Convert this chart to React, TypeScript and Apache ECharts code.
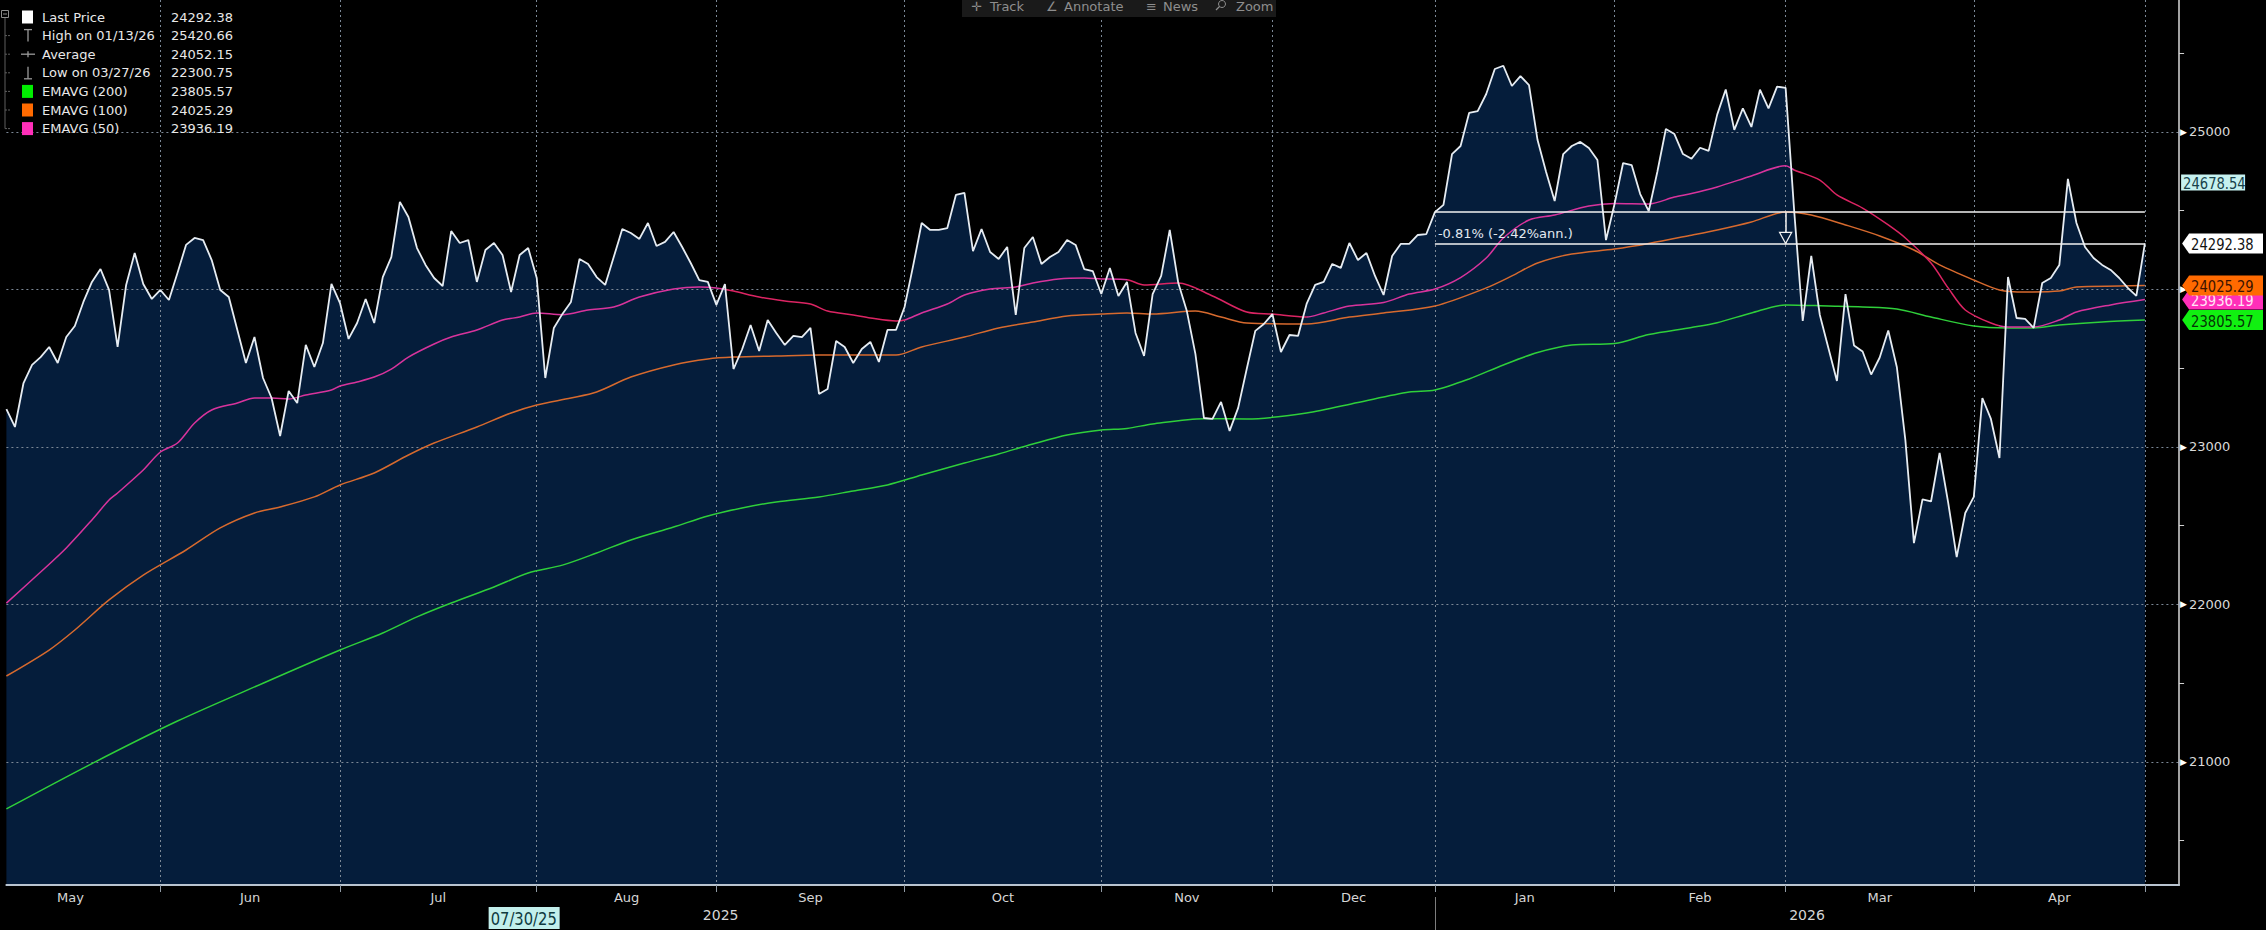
import React, { useEffect, useRef } from "react";
import * as echarts from "echarts";

// ---------------- trading days (x categories) ----------------
const MAY25 = [7, 8, 9, 12, 13, 14, 15, 16, 19, 20, 21, 22, 23, 26, 27, 28, 29, 30];
const JUN25 = [2, 3, 4, 5, 6, 9, 10, 11, 12, 13, 16, 17, 18, 19, 20, 23, 24, 25, 26, 27, 30];
const JUL25 = [1, 2, 3, 4, 7, 8, 9, 10, 11, 14, 15, 16, 17, 18, 21, 22, 23, 24, 25, 28, 29, 30, 31];
const AUG25 = [1, 4, 5, 6, 7, 8, 11, 12, 13, 14, 15, 18, 19, 20, 21, 22, 25, 26, 27, 28, 29];
const SEP25 = [1, 2, 3, 4, 5, 8, 9, 10, 11, 12, 15, 16, 17, 18, 19, 22, 23, 24, 25, 26, 29, 30];
const OCT25 = [1, 2, 3, 6, 7, 8, 9, 10, 13, 14, 15, 16, 17, 20, 21, 22, 23, 24, 27, 28, 29, 30, 31];
const NOV25 = [3, 4, 5, 6, 7, 10, 11, 12, 13, 14, 17, 18, 19, 20, 21, 24, 25, 26, 27, 28];
const DEC25 = [1, 2, 3, 4, 5, 8, 9, 10, 11, 12, 15, 16, 17, 18, 19, 22, 23, 29, 30];
const JAN26 = [2, 5, 6, 7, 8, 9, 12, 13, 14, 15, 16, 19, 20, 21, 22, 23, 26, 27, 28, 29, 30];
const FEB26 = [2, 3, 4, 5, 6, 9, 10, 11, 12, 13, 16, 17, 18, 19, 20, 23, 24, 25, 26, 27];
const MAR26 = [2, 3, 4, 5, 6, 9, 10, 11, 12, 13, 16, 17, 18, 19, 20, 23, 24, 25, 26, 27, 30, 31];
const APR26 = [1, 2, 7, 8, 9, 10, 13, 14, 15, 16, 17, 20, 21, 22, 23, 24, 27, 28, 29, 30];
const MAY26 = [4];
const MONTH_DAYS = [MAY25, JUN25, JUL25, AUG25, SEP25, OCT25, NOV25, DEC25, JAN26, FEB26, MAR26, APR26, MAY26];
const MONTH_MM = ["05", "06", "07", "08", "09", "10", "11", "12", "01", "02", "03", "04", "05"];
const MONTH_YY = ["25", "25", "25", "25", "25", "25", "25", "25", "26", "26", "26", "26", "26"];
const MONTH_NAMES = ["May", "Jun", "Jul", "Aug", "Sep", "Oct", "Nov", "Dec", "Jan", "Feb", "Mar", "Apr"];
const MAY25_FULL_DAYS = 21; // whole month of May 2025 (used to centre the "May" label)
const YEAR_NAMES = ["2025", "2026"];

// ---------------- series values ----------------
const PRICE = [
  23241, 23127, 23406, 23521, 23571, 23635, 23533, 23698, 23768, 23921,
  24048, 24130, 23997, 23635, 24029, 24232, 24035, 23940, 23997, 23933,
  24105, 24283, 24327, 24314, 24187, 23997, 23952, 23743, 23533, 23698,
  23438, 23311, 23070, 23356, 23279, 23648, 23508, 23660, 24035, 23914,
  23686, 23787, 23940, 23787, 24079, 24206, 24556, 24460, 24263, 24156,
  24073, 24022, 24371, 24295, 24314, 24048, 24251, 24295, 24219, 23984,
  24219, 24263, 24073, 23438, 23756, 23845, 23921, 24194, 24162, 24079,
  24029, 24206, 24384, 24359, 24321, 24422, 24276, 24302, 24365, 24270,
  24168, 24060, 24048, 23902, 24035, 23495, 23619, 23775, 23610, 23806,
  23724, 23648, 23705, 23698, 23756, 23337, 23368, 23673, 23635, 23533,
  23622, 23667, 23540, 23743, 23743, 23889, 24150, 24422, 24378, 24378,
  24390, 24600, 24613, 24244, 24384, 24238, 24194, 24270, 23838, 24263,
  24333, 24162, 24206, 24238, 24314, 24283, 24130, 24117, 23971, 24137,
  23959, 24048, 23724, 23578, 23971, 24086, 24378, 24041, 23863, 23591,
  23184, 23178, 23286, 23102, 23248, 23495, 23737, 23781, 23844, 23603,
  23711, 23705, 23908, 24029, 24048, 24162, 24137, 24295, 24187, 24232,
  24086, 23965, 24213, 24289, 24289, 24346, 24352, 24490.8, 24537, 24860,
  24911, 25121, 25133, 25241, 25400, 25420.66, 25292, 25355, 25298, 24949,
  24746, 24562, 24860, 24911, 24937, 24898, 24822, 24314, 24543, 24803,
  24790, 24606, 24498, 24746, 25019, 24987, 24860, 24830, 24900, 24880,
  25110, 25270, 25013, 25150, 25032, 25269, 25150, 25288, 25280, 24500,
  23800, 24213, 23838, 23629, 23419, 23971, 23644, 23606, 23460, 23568,
  23740, 23508, 23044, 22390, 22667, 22654, 22962, 22648, 22300.75, 22581,
  22683, 23311, 23178, 22930, 24079, 23819, 23813, 23756, 24041, 24073,
  24156, 24702, 24422, 24270, 24200, 24156, 24124, 24073, 24010, 23959,
  24292.38,
];

// EMA curves, read as [trading-day index, value]
const EMA50 = [
  [0, 22009], [4, 22206], [7, 22359], [10, 22537], [12, 22663], [13, 22708], [16, 22854], [18, 22968],
  [20, 23025], [22, 23152], [24, 23235], [27, 23279], [29, 23311], [31, 23311], [33, 23305], [35, 23330],
  [38, 23362], [39, 23387], [41, 23413], [43, 23444], [45, 23495], [47, 23571], [50, 23654], [52, 23698],
  [55, 23743], [58, 23806], [60, 23825], [62, 23851], [65, 23840], [68, 23870], [71, 23889], [74, 23952],
  [78, 24003], [81, 24016], [83, 24010], [85, 23990], [88, 23952], [91, 23927], [94, 23908], [96, 23863],
  [99, 23838], [101, 23819], [104, 23800], [105, 23806], [107, 23851], [110, 23908], [112, 23965], [115, 24003],
  [118, 24016], [120, 24041], [123, 24067], [126, 24073], [128, 24067], [131, 24062], [133, 24029], [137, 24041],
  [141, 23959], [145, 23857], [148, 23844], [152, 23825], [154, 23851], [157, 23895], [161, 23917], [164, 23971],
  [167, 24003], [170, 24076], [173, 24200], [175, 24327], [178, 24441], [181, 24473], [185, 24530], [188, 24546],
  [192, 24543], [195, 24587], [197, 24609], [200, 24651], [204, 24721], [208, 24786], [209, 24759], [212, 24695],
  [214, 24600], [217, 24517], [220, 24410], [222, 24327], [225, 24168], [227, 24010], [229, 23870], [232, 23787],
  [234, 23762], [237, 23762], [240, 23806], [242, 23857], [246, 23902], [250, 23936.19],
];
const EMA100 = [
  [0, 21546], [5, 21711], [8, 21838], [12, 22029], [16, 22187], [21, 22346], [25, 22486], [29, 22581],
  [32, 22619], [36, 22683], [39, 22759], [43, 22835], [47, 22949], [50, 23025], [55, 23127], [59, 23216],
  [62, 23267], [66, 23311], [69, 23349], [73, 23444], [78, 23521], [82, 23559], [85, 23571], [90, 23578],
  [95, 23584], [99, 23584], [104, 23584], [107, 23635], [112, 23698], [116, 23756], [120, 23794], [124, 23832],
  [128, 23844], [131, 23851], [134, 23844], [139, 23863], [142, 23825], [145, 23787], [152, 23781], [157, 23825],
  [161, 23851], [167, 23895], [173, 24010], [176, 24086], [179, 24168], [183, 24225], [188, 24257], [192, 24292],
  [197, 24345], [200, 24378], [204, 24429], [208, 24492], [211, 24473], [215, 24410], [219, 24340], [223, 24251],
  [226, 24156], [230, 24060], [233, 23997], [236, 23984], [240, 23990], [242, 24016], [247, 24022], [250, 24025.29],
];
const EMA200 = [
  [0, 20702], [10, 20990], [20, 21260], [30, 21500], [39, 21711], [44, 21819], [48, 21921], [52, 22009],
  [57, 22111], [61, 22200], [65, 22250], [69, 22327], [73, 22410], [78, 22492], [82, 22562], [86, 22613],
  [90, 22651], [95, 22683], [99, 22721], [103, 22759], [107, 22822], [112, 22898], [116, 22956], [120, 23019],
  [124, 23076], [128, 23108], [131, 23118], [134, 23146], [140, 23180], [145, 23178], [152, 23216], [158, 23283],
  [164, 23349], [167, 23362], [171, 23432], [175, 23521], [179, 23600], [183, 23648], [188, 23657], [192, 23714],
  [197, 23759], [200, 23789], [204, 23851], [208, 23902], [213, 23895], [217, 23889], [221, 23876], [225, 23825],
  [230, 23768], [234, 23756], [237, 23756], [240, 23775], [245, 23794], [250, 23805.57],
];
// stretches where the 50-day EMA runs over the black (un-filled) part of the chart
const EMA50_OVER_BLACK = [[84, 105], [131, 152], [209, 233]];

// legend
const LEGEND_LABELS = ["Last Price", "High on 01/13/26", "Average", "Low on 03/27/26", "EMAVG (200)", "EMAVG (100)", "EMAVG (50)"];
const LEGEND_VALUES = ["24292.38", "25420.66", "24052.15", "22300.75", "23805.57", "24025.29", "23936.19"];

// y axis
const Y_MIN = 20219;
const Y_MAX = 25838;
const Y_MAJOR = [21000, 22000, 23000, 24000, 25000];
const Y_MINOR = [20500, 21500, 22500, 23500, 24500, 25500];

// annotation (YTD change)
const ANN_START = 167; // 01/02/26
const ANN_FROM = 24490.8;
const ANN_TO = 24292.38;
const ANN_ARROW_AT = 208;
const ANN_TEXT = "-0.81% (-2.42%ann.)";

// crosshair read-outs
const CROSS_INDEX = 60; // 07/30/25
const CROSS_VALUE = 24678.54;

// ---------------- styles ----------------
const NAVY = "#051d3b";
const GRID_COLOR = "#7c8896";
const C_PRICE = "#e6ecf2";
const C_EMA200 = "#2fcf3a";
const C_EMA100 = "#d76a2e";
const C_EMA50 = "#d8339c";
const C_EMA50_DARK = "#dc2463";
const F_UI = "'DejaVu Sans', Verdana, sans-serif";
const NARROW = 0.82; // horizontal squeeze for the condensed tag font

// ---------------- derived categories ----------------
const CATEGORIES: string[] = [];
const MONTH_START: number[] = [];
MONTH_DAYS.forEach((days, m) => {
  MONTH_START.push(CATEGORIES.length);
  days.forEach((d) => CATEGORIES.push(`${MONTH_MM[m]}/${String(d).padStart(2, "0")}/${MONTH_YY[m]}`));
});
const LAST = CATEGORIES.length - 1;
for (let k = 1; k <= 4; k++) CATEGORIES.push(`pad${k}`);
const N_CAT = CATEGORIES.length;
const BOUNDARIES = new Set(MONTH_START.slice(1));

const GRID_LEFT = 6.4;
const GRID_RIGHT = 86.9;
const STEP_PX = (2266 - GRID_LEFT - GRID_RIGHT) / (N_CAT - 1);

const MONTH_LABEL_AT = new Map<number, string>();
MONTH_NAMES.forEach((name, m) => {
  const start = m === 0 ? MONTH_START[1] - MAY25_FULL_DAYS : MONTH_START[m];
  const c = (start + MONTH_START[m + 1]) / 2;
  const idx = Math.floor(c);
  MONTH_LABEL_AT.set(idx, c - idx >= 0.5 ? `{h|${name}}` : `{n|${name}}`);
});
const YEAR_LABEL_AT = new Map<number, string>();
[(0 + MONTH_START[8]) / 2, (MONTH_START[8] + N_CAT - 1) / 2].forEach((c, k) => {
  const idx = Math.floor(c);
  YEAR_LABEL_AT.set(idx, c - idx >= 0.5 ? `{h|${YEAR_NAMES[k]}}` : `{n|${YEAR_NAMES[k]}}`);
});

export default function App() {
  const ref = useRef<HTMLDivElement>(null);

  useEffect(() => {
    document.body.style.margin = "0";
    document.body.style.background = "#000";
    const chart = echarts.init(ref.current!, null, { renderer: "svg" });

    const monthRich = {
      n: { fontSize: 13, fontFamily: F_UI, color: "#d6d6d6" },
      h: { fontSize: 13, fontFamily: F_UI, color: "#d6d6d6", padding: [0, 0, 0, STEP_PX] },
    };
    const yearRich = {
      n: { fontSize: 14, fontFamily: F_UI, color: "#d6d6d6" },
      h: { fontSize: 14, fontFamily: F_UI, color: "#d6d6d6", padding: [0, 0, 0, STEP_PX] },
    };

    const option: any = {
      backgroundColor: "#000",
      animation: false,
      grid: { left: GRID_LEFT, right: GRID_RIGHT, top: 0, bottom: 45, outerBoundsMode: "none" },
      visualMap: {
        type: "piecewise",
        show: false,
        seriesIndex: 3,
        dimension: 0,
        pieces: EMA50_OVER_BLACK.map(([a, b]) => ({ gte: a, lte: b, color: C_EMA50_DARK })),
        outOfRange: { color: C_EMA50 },
      },
      xAxis: [
        {
          type: "category",
          data: CATEGORIES,
          boundaryGap: false,
          position: "bottom",
          z: 1.5,
          axisLine: { show: true, lineStyle: { color: "#b9c4d0", width: 2 } },
          axisTick: { show: true, interval: (i: number) => BOUNDARIES.has(i), length: 7, lineStyle: { color: "#8f99a4" } },
          splitLine: { show: true, interval: (i: number) => BOUNDARIES.has(i), lineStyle: { color: GRID_COLOR, type: [2, 3], width: 1 } },
          axisLabel: {
            interval: (i: number) => MONTH_LABEL_AT.has(i),
            formatter: (_v: string, i: number) => MONTH_LABEL_AT.get(i) || "",
            margin: 6,
            rich: monthRich,
          },
        },
        {
          type: "category",
          data: CATEGORIES,
          boundaryGap: false,
          position: "bottom",
          offset: 12,
          axisLine: { show: false },
          axisTick: { show: true, interval: (i: number) => i === MONTH_START[8], length: 33, lineStyle: { color: "#7d7d7d" } },
          splitLine: { show: false },
          axisLabel: {
            interval: (i: number) => YEAR_LABEL_AT.has(i),
            formatter: (_v: string, i: number) => YEAR_LABEL_AT.get(i) || "",
            margin: 11,
            rich: yearRich,
          },
        },
      ],
      yAxis: [
        {
          type: "value",
          position: "right",
          min: Y_MIN,
          max: Y_MAX,
          z: 1.5,
          axisLine: { show: true, lineStyle: { color: "#d9d9d9", width: 1.5 } },
          axisTick: { show: false, customValues: Y_MAJOR },
          splitLine: { show: true, lineStyle: { color: GRID_COLOR, type: [2, 3], width: 1 } },
          axisLabel: {
            customValues: Y_MAJOR,
            margin: 1,
            formatter: (v: number) => `{t|\u25B6}{v|${v}}`,
            rich: {
              t: { fontSize: 9, fontFamily: F_UI, color: "#ffffff", padding: [0, 2, 0, 0] },
              v: { fontSize: 13, fontFamily: F_UI, color: "#d9d9d9" },
            },
          },
        },
        {
          type: "value",
          position: "right",
          min: Y_MIN,
          max: Y_MAX,
          axisLine: { show: false },
          axisTick: { show: true, customValues: Y_MINOR, length: 5, lineStyle: { color: "#cfcfcf" } },
          axisLabel: { show: false },
          splitLine: { show: false },
        },
      ],
      series: [
        {
          name: "area",
          type: "line",
          data: PRICE,
          symbol: "none",
          silent: true,
          z: 1,
          lineStyle: { width: 0 },
          areaStyle: { color: NAVY, opacity: 1, origin: "start" },
        },
        { name: "EMAVG (200)", type: "line", data: EMA200, symbol: "none", smooth: 0.3, z: 2, lineStyle: { color: C_EMA200, width: 1.5 } },
        { name: "EMAVG (100)", type: "line", data: EMA100, symbol: "none", smooth: 0.3, z: 2, lineStyle: { color: C_EMA100, width: 1.5 } },
        { name: "EMAVG (50)", type: "line", data: EMA50, symbol: "none", smooth: 0.3, z: 2, lineStyle: { width: 1.5 } },
        {
          name: "Last Price",
          type: "line",
          data: PRICE,
          symbol: "none",
          z: 3,
          lineStyle: { color: C_PRICE, width: 1.8 },
          markLine: {
            silent: true,
            symbol: ["none", "none"],
            lineStyle: { color: "#f2f2f2", width: 1.5, type: "solid" },
            label: { show: false },
            data: [
              [{ coord: [ANN_START, ANN_FROM] }, { coord: [LAST, ANN_FROM] }],
              [
                {
                  coord: [ANN_START, ANN_TO],
                  label: { show: true, position: "insideStartTop", formatter: ANN_TEXT, color: "#e3e9f0", fontSize: 13, fontFamily: F_UI, distance: 3 },
                },
                { coord: [LAST, ANN_TO] },
              ],
              [{ coord: [ANN_ARROW_AT, ANN_FROM] }, { coord: [ANN_ARROW_AT, ANN_TO] }],
            ],
          },
        },
      ],
    };

    chart.setOption(option);

    // ------------- graphics: legend, toolbar, value tags -------------
    const els: any[] = [];
    const LY0 = 17;
    const LDY = 18.6;
    const grey = "#8c8c8c";
    // tree
    els.push({ type: "rect", shape: { x: 1.5, y: 10.5, width: 7, height: 7 }, style: { fill: "none", stroke: grey, lineWidth: 1 }, z: 100 });
    els.push({ type: "line", shape: { x1: 3, y1: 14, x2: 7, y2: 14 }, style: { stroke: grey, lineWidth: 1 }, z: 100 });
    els.push({ type: "line", shape: { x1: 5, y1: 18, x2: 5, y2: LY0 + 6 * LDY }, style: { stroke: "#5e5e5e", lineWidth: 1 }, z: 100 });
    LEGEND_LABELS.forEach((lab, k) => {
      const y = LY0 + k * LDY;
      if (k > 0) els.push({ type: "line", shape: { x1: 5, y1: y, x2: 11, y2: y }, style: { stroke: "#5e5e5e", lineWidth: 1, lineDash: [2, 1] }, z: 100 });
      els.push({ type: "text", x: 42, y, style: { text: lab, fill: "#e8e8e8", font: `13px ${F_UI}`, align: "left", verticalAlign: "middle" }, z: 100 });
      els.push({ type: "text", x: 233, y, style: { text: LEGEND_VALUES[k], fill: "#e8e8e8", font: `13px ${F_UI}`, align: "right", verticalAlign: "middle" }, z: 100 });
    });
    const sq = (k: number, color: string) =>
      els.push({ type: "rect", shape: { x: 22, y: LY0 + k * LDY - 6.5, width: 11, height: 13 }, style: { fill: color }, z: 100 });
    sq(0, "#ffffff");
    sq(4, "#00ee00");
    sq(5, "#ff6a00");
    sq(6, "#ff2fb9");
    const ln = (x1: number, y1: number, x2: number, y2: number) =>
      els.push({ type: "line", shape: { x1, y1, x2, y2 }, style: { stroke: "#9a9a9a", lineWidth: 1.3 }, z: 100 });
    {
      const y1 = LY0 + LDY;
      ln(28, y1 - 6, 28, y1 + 6);
      ln(24, y1 - 6, 32, y1 - 6);
      const y2 = LY0 + 2 * LDY;
      ln(21, y2, 35, y2);
      ln(28, y2 - 3, 28, y2 + 3);
      const y3 = LY0 + 3 * LDY;
      ln(28, y3 - 6, 28, y3 + 6);
      ln(24, y3 + 6, 32, y3 + 6);
    }

    // toolbar
    els.push({ type: "rect", shape: { x: 962, y: -2, width: 314, height: 19 }, style: { fill: "#1a1a1a" }, z: 100 });
    const tb = (x: number, t: string) =>
      els.push({ type: "text", x, y: 6, style: { text: t, fill: "#8e8e8e", font: `13px ${F_UI}`, align: "left", verticalAlign: "middle" }, z: 101 });
    tb(971, "\u271B");
    tb(990, "Track");
    tb(1046, "\u2220");
    tb(1064, "Annotate");
    tb(1146, "\u2261");
    tb(1163, "News");
    els.push({ type: "circle", shape: { cx: 1222, cy: 4, r: 3.5 }, style: { fill: "none", stroke: "#8e8e8e", lineWidth: 1 }, z: 101 });
    els.push({ type: "line", shape: { x1: 1219.5, y1: 6.5, x2: 1216, y2: 10 }, style: { stroke: "#8e8e8e", lineWidth: 1.3 }, z: 101 });
    tb(1236, "Zoom");

    // annotation arrow head (outlined triangle at the end of the change arrow)
    {
      const [ax, ay] = chart.convertToPixel({ xAxisIndex: 0, yAxisIndex: 0 }, [ANN_ARROW_AT, ANN_TO]) as number[];
      els.push({
        type: "polygon",
        shape: { points: [[ax - 6, ay - 11], [ax + 6, ay - 11], [ax, ay]] },
        style: { fill: NAVY, stroke: "#f2f2f2", lineWidth: 1.3 },
        z: 50,
      });
    }

    // value tags on the right axis
    const axisX = chart.convertToPixel({ xAxisIndex: 0 }, N_CAT - 1) as number;
    const tip = axisX + 3;
    const R = 2263;
    const yOf = (v: number) => chart.convertToPixel({ yAxisIndex: 0 }, v) as number;
    const tagText = (x: number, y: number, text: string, fg: string, z: number, size = 16) => ({
      type: "text",
      x,
      y,
      scaleX: NARROW,
      style: { text, fill: fg, font: `${size}px ${F_UI}`, align: "left", verticalAlign: "middle" },
      z,
    });
    const tag = (value: number, text: string, bg: string, fg: string, z: number) => {
      const y = yOf(value);
      els.push({
        type: "polygon",
        shape: { points: [[tip, y], [tip + 7, y - 10], [R, y - 10], [R, y + 10], [tip + 7, y + 10]] },
        style: { fill: bg },
        z,
      });
      els.push(tagText(tip + 9, y + 0.5, text, fg, z + 0.5));
    };
    {
      const y = yOf(CROSS_VALUE);
      els.push({ type: "rect", shape: { x: axisX + 2, y: y - 8, width: 64, height: 16 }, style: { fill: "#c6f1ef" }, z: 110 });
      els.push(tagText(axisX + 4, y + 0.5, CROSS_VALUE.toFixed(2), "#17414a", 111));
    }
    tag(EMA50[EMA50.length - 1][1], LEGEND_VALUES[6], "#ff2fb9", "#ffe6f6", 112);
    tag(EMA100[EMA100.length - 1][1], LEGEND_VALUES[5], "#ff6a00", "#3a1200", 114);
    tag(EMA200[EMA200.length - 1][1], LEGEND_VALUES[4], "#11f011", "#063306", 116);
    tag(PRICE[LAST], LEGEND_VALUES[0], "#ffffff", "#111111", 118);

    // crosshair date read-out on the time axis
    {
      const x = chart.convertToPixel({ xAxisIndex: 0 }, CROSS_INDEX) as number;
      els.push({ type: "rect", shape: { x: x - 31, y: 907, width: 71, height: 22 }, style: { fill: "#c2efec" }, z: 110 });
      els.push(tagText(x - 29, 918.5, CATEGORIES[CROSS_INDEX], "#0f3a40", 111, 18));
    }

    chart.setOption({ graphic: els });

    return () => chart.dispose();
  }, []);

  return <div ref={ref} style={{ position: "absolute", left: 0, top: 0, width: 2266, height: 930, background: "#000" }} />;
}
